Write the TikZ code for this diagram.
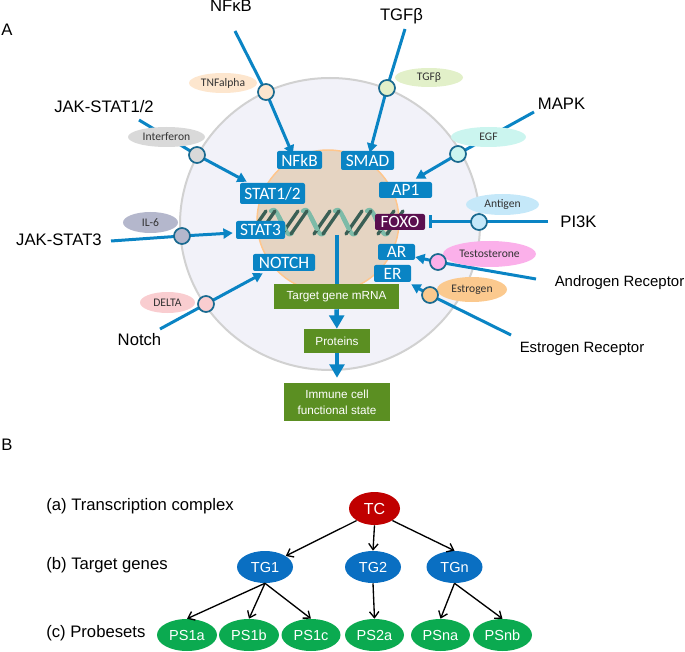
\documentclass[tikz,border=0pt]{standalone}
\usepackage{fontspec}
\setmainfont{Liberation Sans}
\newfontfamily\calfam{Carlito}
\usetikzlibrary{arrows.meta,shapes.geometric}
\newdimen\px \px=.75pt
\definecolor{sigblue}{HTML}{0A84C4}
\definecolor{ringblue}{HTML}{1A6A90}
\definecolor{boxblue}{HTML}{0A84C4}
\definecolor{boxgreen}{HTML}{5B8F22}
\definecolor{darkfoxo}{HTML}{5B0F4F}
\definecolor{helixl}{HTML}{7DBBA8}
\definecolor{helixd}{HTML}{3A5F55}
\definecolor{cyto}{HTML}{F2F2F9}
\definecolor{nuc}{HTML}{E5D4C2}
\definecolor{tnf}{HTML}{FDE6CE}
\definecolor{tgf}{HTML}{E2F0C9}
\definecolor{ifn}{HTML}{D9D9D9}
\definecolor{il}{HTML}{B4B7CC}
\definecolor{dl}{HTML}{F9CDD0}
\definecolor{egf}{HTML}{CBF5EF}
\definecolor{ag}{HTML}{C5E8F9}
\definecolor{tes}{HTML}{FBB0EA}
\definecolor{est}{HTML}{FBC98E}
\definecolor{tcred}{HTML}{C00000}
\definecolor{tgblue}{HTML}{0A6FC2}
\definecolor{psgreen}{HTML}{0BAA50}
\tikzset{
 sig/.style={draw=sigblue,line width=2.25pt},
 sigarrow/.style={sig,-{Triangle[length=7pt,width=7.5pt]}},
 fatarrow/.style={draw=sigblue,line width=3.4pt,-{Triangle[length=10pt,width=11pt]}},
 tf/.style={rectangle,rounded corners=1.5pt,fill=boxblue,text=white,inner sep=0pt,font=\calfam\fontsize{13pt}{14pt}\selectfont},
 outcome/.style={rectangle,fill=boxgreen,text=white,inner sep=0pt,align=center,font=\fontsize{8.8pt}{12pt}\selectfont},
 ligand/.style={ellipse,inner sep=0pt,text=black!80,font=\calfam\fontsize{8.7pt}{10pt}\selectfont},
 hub/.style={circle,draw=ringblue,line width=1.3pt,minimum size=12pt,inner sep=0pt},
 pname/.style={font=\fontsize{#1}{14pt}\selectfont,text=black,inner sep=0pt},
 treenode/.style={ellipse,inner sep=0pt,text=white,font=\fontsize{10.9pt}{12pt}\selectfont},
 link/.style={draw=black,line width=1pt,-{Straight Barb[length=4.5pt,width=7pt]}},
 helixlight/.style={draw=helixl,line width=3.2pt,line join=round,line cap=round},
 helixdark/.style={draw=helixd,line width=2.5pt,line cap=round}
}
\begin{document}
\begin{tikzpicture}[x=.75pt,y=-.75pt]
\useasboundingbox (0,0) rectangle (685,652);
% cell
\draw[draw=black!18,line width=1.5pt,fill=cyto] (330,224) ellipse [x radius=150,y radius=146];
\draw[draw=orange!45,line width=1.1pt,fill=nuc] (328,221) circle [radius=71];
% helix: dark rising strokes, light falling strokes
\foreach \c in {273,305,337,369} {
  \draw[helixlight] (\c-2,211) .. controls (\c+1,209) and (\c+2,210) .. (\c+4,213) -- (\c+13,231) .. controls (\c+15,235) and (\c+17,235) .. (\c+19,233);
}
\foreach \c in {273,305,337,369,401} {
  \draw[helixdark] (\c-23,234) -- (\c-7,211);
  \draw[helixdark] (\c-14,234) -- (\c+2,211);
}
\foreach \c in {273,305,337,369} {
  \draw[helixlight] (\c+6,217) -- (\c+12,229);
}
% transcription factors
\node[tf,minimum width=45\px,minimum height=18\px] (NFkB) at (299.5,160) {NFkB};
\node[tf,minimum width=53\px,minimum height=19\px] (SMAD) at (367.5,160.5) {SMAD};
\node[tf,minimum width=65\px,minimum height=21\px] (STAT12) at (272.5,193.5) {STAT1/2};
\node[tf,minimum width=53\px,minimum height=16\px] (AP1) at (405.5,190) {AP1};
\node[tf,minimum width=49\px,minimum height=18\px] (STAT3) at (260.5,230) {STAT3};
\node[tf,fill=darkfoxo,minimum width=50\px,minimum height=16\px] (FOXO) at (400,222) {FOXO};
\node[tf,minimum width=62\px,minimum height=17\px] (NOTCH) at (284,262.5) {NOTCH};
\node[tf,minimum width=37\px,minimum height=16\px] (AR) at (396.5,252) {AR};
\node[tf,minimum width=37\px,minimum height=17\px] (ER) at (392.5,273.5) {ER};

% outcomes
\node[outcome,minimum width=125\px,minimum height=25\px] (mRNA) at (336.5,296.5) {Target gene mRNA};
\node[outcome,minimum width=66\px,minimum height=24\px] (Prot) at (337,341) {Proteins};
\node[outcome,minimum width=106\px,minimum height=38\px] (Immune) at (337,402) {Immune cell\\functional state};

% pathway names
\node[pname=12.5pt] (nNF) at (231,6) {NFκB};
\node[pname=12.5pt] (nTGF) at (401.5,16) {TGFβ};
\node[pname=12.5pt] (nJ12) at (104,107) {JAK-STAT1/2};
\node[pname=12.5pt] (nJ3) at (59,240) {JAK-STAT3};
\node[pname=12.5pt] (nMAPK) at (561.5,104) {MAPK};
\node[pname=12.5pt] (nPI3K) at (578.5,222) {PI3K};
\node[pname=11.2pt] (nAR) at (619.5,283) {Androgen Receptor};
\node[pname=11.2pt] (nER) at (582,349) {Estrogen Receptor};
\node[pname=12.5pt] (nNo) at (139.5,340) {Notch};
\node[pname=12.5pt] (pA) at (7,30) {A};
\node[pname=12.5pt] (pB) at (7,445) {B};

% free ends
\coordinate (sNF) at (235,31);
\coordinate (sTGF) at (405,29);
\coordinate (sJ12) at (139,120);
\coordinate (sJ3) at (111,241);
\coordinate (sMAPK) at (534,112);
\coordinate (sPI3K) at (548,222);
\coordinate (sAR) at (536,279);
\coordinate (sER) at (511,335);
\coordinate (sNo) at (160,329);
\coordinate (dnaEnd) at (337,235);

% hub positions
\coordinate (cNF) at (266,92);
\coordinate (cTGF) at (387,88);
\coordinate (cJ12) at (197,155);
\coordinate (cJ3) at (182,236);
\coordinate (cMAPK) at (458,154);
\coordinate (cPI3K) at (479,222);
\coordinate (cAR) at (438,262);
\coordinate (cER) at (430,295);
\coordinate (cNo) at (206,304);

% connectors
\draw[sig] (sNF) -- (cNF);
\draw[sigarrow] (cNF) -- ([shift={(16,4)}]NFkB.north west);
\draw[sig] (sTGF) -- (cTGF);
\draw[sigarrow] (cTGF) -- ([shift={(29,2)}]SMAD.north west);
\draw[sig] (sJ12) -- (cJ12);
\draw[sigarrow] (cJ12) -- ([shift={(7,-1)}]STAT12.north west);
\draw[sig] (sJ3) -- (cJ3);
\draw[sigarrow] (cJ3) -- ([shift={(-3,3)}]STAT3.west);
\draw[sig] (sMAPK) -- (cMAPK);
\draw[sigarrow] (cMAPK) -- ([shift={(37,-3)}]AP1.north west);
\draw[sig] (sPI3K) -- (cPI3K);
\draw[sig,-{Bar[width=9.75pt,length=0pt]}] (cPI3K) -- ([xshift=3pt]FOXO.east);
\draw[sig] (sAR) -- (cAR);
\draw[sigarrow] (cAR) -- ([shift={(0,5)}]AR.east);
\draw[sig] (sER) -- (cER);
\draw[sigarrow] (cER) -- ([shift={(0,2)}]ER.south east);
\draw[sig] (sNo) -- (cNo);
\draw[sigarrow] (cNo) -- ([shift={(10,2)}]NOTCH.south west);
\draw[draw=sigblue,line width=3pt] (dnaEnd) -- (dnaEnd |- mRNA.north);
\draw[fatarrow] (mRNA) -- (Prot);
\draw[fatarrow,shorten >=3.75pt] (Prot) -- (Immune);

% ligands
\node[ligand,fill=tnf,minimum width=68\px,minimum height=20\px] (lTNF) at (223,83) {TNFalpha};
\node[ligand,fill=tgf,minimum width=68\px,minimum height=19\px] (lTGF) at (429,77.5) {TGFβ};
\node[ligand,fill=ifn,minimum width=77\px,minimum height=20\px] (lIFN) at (166.5,137) {Interferon};
\node[ligand,fill=il,minimum width=55\px,minimum height=21\px] (lIL) at (150.5,222.5) {IL-6};
\node[ligand,fill=dl,minimum width=55\px,minimum height=21\px] (lDL) at (167.5,302.5) {DELTA};
\node[ligand,fill=egf,minimum width=75\px,minimum height=20\px] (lEGF) at (488.5,137) {EGF};
\node[ligand,fill=ag,minimum width=73\px,minimum height=21\px] (lAG) at (502.5,204.5) {Antigen};
\node[ligand,fill=tes,minimum width=93\px,minimum height=26\px] (lTES) at (489.5,254) {Testosterone};
\node[ligand,fill=est,minimum width=70\px,minimum height=25\px] (lEST) at (472,289.5) {Estrogen};

% hubs
\node[hub,fill=tnf] (hNF) at (cNF) {};
\node[hub,fill=tgf] (hTGF) at (cTGF) {};
\node[hub,fill=ifn] (hJ12) at (cJ12) {};
\node[hub,fill=il] (hJ3) at (cJ3) {};
\node[hub,fill=egf] (hMAPK) at (cMAPK) {};
\node[hub,fill=ag] (hPI3K) at (cPI3K) {};
\node[hub,fill=tes] (hAR) at (cAR) {};
\node[hub,fill=est] (hER) at (cER) {};
\node[hub,fill=dl] (hNo) at (cNo) {};

% panel B
\node[pname=12.5pt,anchor=west] (la) at (46,506) {(a) Transcription complex};
\node[pname=12.5pt,anchor=west] (lb) at (46,565) {(b) Target genes};
\node[pname=12.5pt,anchor=west] (lc) at (46,633) {(c) Probesets};
\node[treenode,fill=tcred,minimum width=51\px,minimum height=33\px,font=\fontsize{12pt}{12pt}\selectfont] (TC) at (374.5,508.5) {TC};
\node[treenode,fill=tgblue,minimum width=56\px,minimum height=32\px] (TG1) at (265,567) {TG1};
\node[treenode,fill=tgblue,minimum width=56\px,minimum height=32\px] (TG2) at (373,567) {TG2};
\node[treenode,fill=tgblue,minimum width=56\px,minimum height=32\px] (TGn) at (454.5,567) {TGn};
\node[treenode,fill=psgreen,minimum width=60\px,minimum height=32\px] (PS1a) at (187,635) {PS1a};
\node[treenode,fill=psgreen,minimum width=60\px,minimum height=32\px] (PS1b) at (249,635) {PS1b};
\node[treenode,fill=psgreen,minimum width=59\px,minimum height=32\px] (PS1c) at (311,635) {PS1c};
\node[treenode,fill=psgreen,minimum width=59\px,minimum height=32\px] (PS2a) at (374.5,635) {PS2a};
\node[treenode,fill=psgreen,minimum width=59\px,minimum height=32\px] (PSna) at (440.5,635) {PSna};
\node[treenode,fill=psgreen,minimum width=59\px,minimum height=32\px] (PSnb) at (502.5,635) {PSnb};
\draw[link] (TC.214) -- (TG1.28);
\draw[link] (TC.south) -- (TG2.north);
\draw[link] (TC.326) -- (TGn.north);
\draw[link] (TG1.south) -- (PS1a.north);
\draw[link] (TG1.south) -- (PS1b.north);
\draw[link] (TG1.south) -- (PS1c.north);
\draw[link] (TG2.south) -- (PS2a.north);
\draw[link] (TGn.south) -- (PSna.north);
\draw[link] (TGn.south) -- (PSnb.north);
\end{tikzpicture}
\end{document}
